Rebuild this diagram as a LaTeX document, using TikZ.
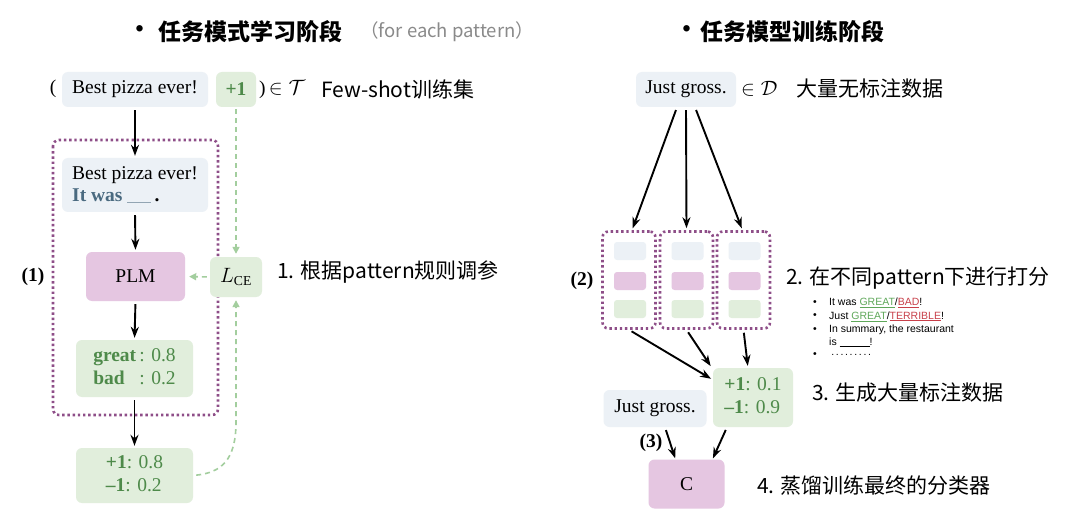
\documentclass[tikz,border=0pt]{standalone}
\usepackage{fontspec}
\setmainfont{Liberation Serif}
\newfontfamily\cjk{Noto Sans CJK SC}
\newfontfamily\arialf{Liberation Sans}
\usetikzlibrary{arrows.meta,calc}
\definecolor{boxblue}{HTML}{ECF1F6}
\definecolor{boxgreen}{HTML}{E1EEDC}
\definecolor{boxpink}{HTML}{E5C6E1}
\definecolor{gtext}{HTML}{4E8A4A}
\definecolor{itblue}{HTML}{4A6A80}
\definecolor{dotpurple}{HTML}{8E4E88}
\definecolor{dashgreen}{HTML}{A3CE9E}
\definecolor{titlegrey}{HTML}{8A8A8A}
\definecolor{redword}{HTML}{C8404A}
\definecolor{greenword}{HTML}{5FA85A}
\tikzset{
  tbox/.style={rounded corners=6pt, inner sep=0pt, font=\fontsize{19.5}{23}\selectfont},
  bluebox/.style={tbox, fill=boxblue},
  greenbox/.style={tbox, fill=boxgreen, text=gtext},
  pinkbox/.style={tbox, fill=boxpink},
  arr/.style={-{Stealth[length=11pt,width=8pt]}, line width=1.9pt, shorten >=2pt, shorten <=3pt},
  garr/.style={-{Triangle[length=7pt,width=7pt]}, draw=dashgreen, line width=1.6pt, dash pattern=on 5pt off 4pt},
  dotbox/.style={draw=dotpurple, line width=2.6pt, dash pattern=on 2.4pt off 2.8pt, rounded corners=6pt},
  cjklabel/.style={font=\cjk\fontsize{21}{24}\selectfont, anchor=west, inner sep=0pt},
  titlelabel/.style={font=\cjk\bfseries\fontsize{23}{26}\selectfont, anchor=west, inner sep=0pt},
  smallr/.style={rounded corners=3pt, minimum width=32pt, minimum height=18pt, inner sep=0pt},
  plain/.style={inner sep=0pt, font=\fontsize{19.5}{23}\selectfont},
  listitem/.style={anchor=west, inner sep=0pt, font=\arialf\fontsize{10.5}{12}\selectfont},
}
\begin{document}
\begin{tikzpicture}[x=1pt,y=-1pt]
\useasboundingbox (0,0) rectangle (1080,524);
\fill[white] (0,0) rectangle (1080,524);

% ---------- titles ----------
\node[titlelabel] (tb1) at (128,32) {•};
\node[titlelabel] (t1) at (158,32) {任务模式学习阶段};
\node[anchor=west, inner sep=0pt, text=titlegrey, font=\cjk\fontsize{18.5}{21}\selectfont] (t1b) at (360,32) {（for each pattern）};
\node[titlelabel] (tb2) at (675,32) {•};
\node[titlelabel] (t2) at (700,32) {任务模型训练阶段};

% ---------- left part ----------
\node[plain] (po) at (53,89) {(};
\node[bluebox, minimum width=146pt, minimum height=35pt] (b1) at (135,89.5) {Best pizza ever!};
\node[greenbox, minimum width=40pt, minimum height=35pt] (p1) at (236,89.5) {\textbf{+1}};
\node[plain, anchor=west] (pc) at (259,89) {)\,$\in\mathcal{T}$};
\node[cjklabel] (fs) at (321,89) {Few-shot训练集};

\draw[dotbox] (53,140) rectangle (218,415);
\node[plain] (l1) at (33,277) {\textbf{(1)}};

\node[bluebox, minimum width=146pt, minimum height=54pt, align=left] (b2) at (135,185)
  {Best pizza ever!\\[-1pt]{\bfseries\color{itblue}It was} {\color{itblue!60}\rule[-1pt]{24pt}{0.7pt}}\,{\bfseries .}};
\node[pinkbox, minimum width=99pt, minimum height=49pt] (plm) at (135.5,276.5) {PLM};
\node[greenbox, minimum width=52pt, minimum height=40pt, text=black] (lce) at (236,277) {$L_{\mathrm{CE}}$};
\node[greenbox, minimum width=117pt, minimum height=57pt] (gb) at (134.5,368.5)
  {\begin{tabular}{@{}l@{\,}l@{}}\textbf{great} & : 0.8\\ \textbf{bad} & : 0.2\end{tabular}};
\node[greenbox, minimum width=117pt, minimum height=55pt] (pm) at (134.5,475.5)
  {\begin{tabular}{@{}l@{}}\textbf{+1}: 0.8\\ \textbf{–1}: 0.2\end{tabular}};
\node[cjklabel] (s1) at (277,272) {1. 根据pattern规则调参};

\draw[arr] (b1.south) -- (b2.north);
\draw[arr] (b2.south) -- (plm.north);
\draw[arr] (plm.south) -- (gb.north);
\draw[arr] (gb.south) -- (pm.north);
\draw[garr, shorten <=2pt, shorten >=3pt] (p1.south) -- (lce.north);
\draw[garr, shorten <=3pt, shorten >=4pt] (lce.west) -- (plm.east);
\draw[garr, shorten <=3pt, shorten >=3pt] (pm.east) .. controls +(28,-3) and +(0,38) .. ($(lce.south)+(0,125)$) -- (lce.south);

% ---------- right part ----------
\node[bluebox, minimum width=100pt, minimum height=35pt] (jg) at (686,89.5) {Just gross.};
\node[plain, anchor=west] (ind) at (741,89) {$\in\mathcal{D}$};
\node[cjklabel] (s0) at (796,89) {大量无标注数据};

\foreach \i/\x in {1/629,2/686.5,3/743.5}{
  \node[dotbox, minimum width=53pt, minimum height=97pt, inner sep=0pt] (d\i) at (\x,280) {};
  \node[smallr, fill=boxblue] (d\i a) at (\x+1,251) {};
  \node[smallr, fill=boxpink] (d\i b) at (\x+1,281) {};
  \node[smallr, fill=boxgreen] (d\i c) at (\x+1,309) {};
}
\node[plain] (l2) at (582,281) {\textbf{(2)}};

\draw[arr] ([xshift=-9pt]jg.south) -- ([xshift=3pt]d1.north);
\draw[arr] (jg.south) -- (d2.north);
\draw[arr] ([xshift=9pt]jg.south) -- ([xshift=-1pt]d3.north);

\node[greenbox, minimum width=80pt, minimum height=59pt] (r) at (753,397.5)
  {\begin{tabular}{@{}l@{}}\textbf{+1}: 0.1\\ \textbf{–1}: 0.9\end{tabular}};
\node[bluebox, minimum width=103pt, minimum height=37pt] (jg2) at (655,408.5) {Just gross.};
\node[pinkbox, minimum width=76pt, minimum height=49pt] (c) at (686.5,484) {C};
\node[plain] (l3) at (651,443) {\textbf{(3)}};

\draw[arr] (d1.south) -- ([yshift=-12pt]r.north west);
\draw[arr] (d2.south) -- ([xshift=-1pt]r.north west);
\draw[arr] (d3.south) -- ([xshift=-5pt]r.north);
\draw[arr, shorten >=1pt] ([xshift=10pt]jg2.south) -- ([xshift=-11pt]c.north);
\draw[arr, shorten >=1pt] ([xshift=-26pt]r.south) -- ([xshift=26pt]c.north);

\node[cjklabel] (s2) at (786,278) {2. 在不同pattern下进行打分};
\foreach \k/\yy in {1/303,2/316.5,3/330,5/355}{
  \node[listitem] (bul\k) at (813,\yy) {•};
}
\node[listitem] (li1) at (829,303) {It was {\color{greenword}\underline{GREAT}}/{\color{redword}\underline{BAD}}!};
\node[listitem] (li2) at (829,316.5) {Just {\color{greenword}\underline{GREAT}}/{\color{redword}\underline{TERRIBLE}}!};
\node[listitem] (li3) at (829,330) {In summary, the restaurant};
\node[listitem] (li4) at (829,342.5) {is \rule[-1pt]{30pt}{0.5pt}!};
\node[listitem] (li5) at (829,355) {\makebox[44pt]{\dotfill}};

\node[cjklabel] (s3) at (812,393) {3. 生成大量标注数据};
\node[cjklabel] (s4) at (757,486) {4. 蒸馏训练最终的分类器};
\end{tikzpicture}
\end{document}
